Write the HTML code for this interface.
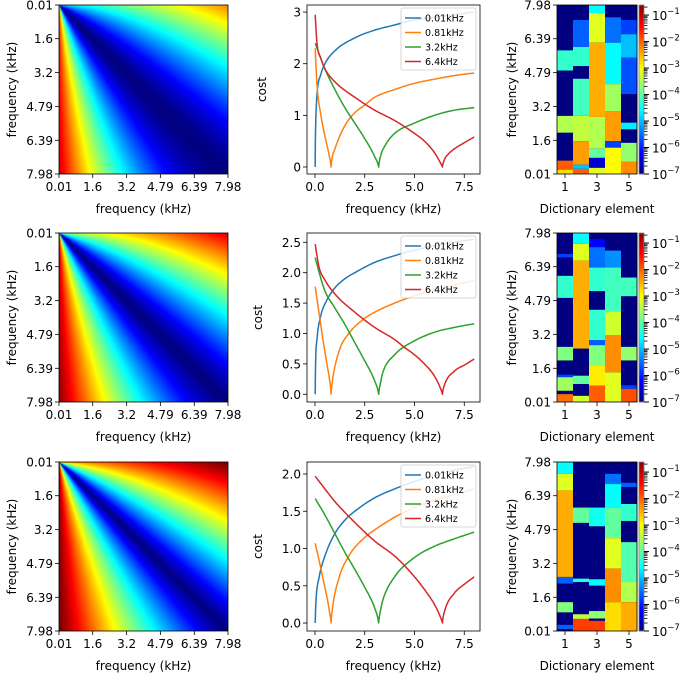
<!DOCTYPE html>
<html><head><meta charset="utf-8">
<style>
body{margin:0;background:#fff;}
#wrap{position:relative;width:685px;height:674px;overflow:hidden;font-family:"DejaVu Sans","Liberation Sans",sans-serif;}
canvas{position:absolute;}
svg{position:absolute;left:0;top:0;}
</style></head>
<body>
<div id="wrap">
<canvas id="m0" width="169" height="169" style="left:59px;top:5px"></canvas>
<canvas id="m1" width="169" height="169" style="left:59px;top:233px"></canvas>
<canvas id="m2" width="169" height="169" style="left:59px;top:462px"></canvas>
<svg id="fig" width="685" height="674"></svg>
</div>
<script>
// ---------- data ----------
const rowTops = [5, 233, 462];
const freqTicks = ["0.01","1.6","3.2","4.79","6.39","7.98"];
const freqTickVals = [0.01,1.6,3.2,4.79,6.39,7.98];
// matrix shape parameters per row
const matUpPow = [1.5, 1.3, 1.15];
const matLowPow = [1.9, 1.45, 1.2];
const matUpBase = [0.33, 0.52, 0.70];
const matUpSlope = [0.052, 0.048, 0.04];
const matLowBase = [0.84, 0.92, 0.98];
const matLowSlope = [0.01, 0.008, 0.004];
const seriesNames = ["0.01kHz","0.81kHz","3.2kHz","6.4kHz"];
const seriesColors = ["#1f77b4","#ff7f0e","#2ca02c","#d62728"];
const costYTicks = [[0,1,2,3],[0,0.5,1.0,1.5,2.0,2.5],[0,0.5,1.0,1.5,2.0]];
const costYTickLabels = [["0","1","2","3"],["0.0","0.5","1.0","1.5","2.0","2.5"],["0.0","0.5","1.0","1.5","2.0"]];
const costYDomain = [[-0.136,3.137],[-0.127,2.653],[-0.107,2.161]];
const costXTicks = [0,2.5,5,7.5];
const costXTickLabels = ["0.0","2.5","5.0","7.5"];
// row 1 curves
const r1Blue = [[0.01,0],[0.02,0.5],[0.05,1.0],[0.1,1.4],[0.3,1.8],[0.5,2.0],[1,2.25],[2,2.5],[3,2.65],[4,2.75],[5,2.85],[6,2.9],[7,2.95],[8,3.0]];
const r1Orange = [[0.01,2.3],[0.1,1.6],[0.3,1.0],[0.5,0.6],[0.7,0.25],[0.81,0],[0.85,0.15],[1,0.35],[1.5,0.8],[2,1.05],[2.5,1.2],[3,1.35],[4,1.5],[5,1.62],[6,1.7],[7,1.77],[8,1.82]];
const r1Green = [[0.01,2.4],[0.2,2.2],[0.5,1.9],[1,1.5],[1.5,1.15],[2,0.85],[2.5,0.55],[3,0.2],[3.2,0],[3.3,0.22],[3.5,0.4],[4,0.65],[5,0.85],[6,1.0],[7,1.1],[8,1.15]];
const r1Red = [[0.01,2.95],[0.1,2.4],[0.3,2.1],[0.5,1.9],[1,1.65],[2,1.35],[3,1.1],[4,0.9],[5,0.65],[5.5,0.5],[6,0.28],[6.3,0.08],[6.4,0],[6.5,0.14],[6.7,0.25],[7,0.35],[7.5,0.47],[8,0.58]];
// row 2 curves
const r2Blue = [[0.01,0],[0.03,0.5],[0.1,0.9],[0.3,1.3],[0.6,1.55],[1,1.75],[1.5,1.9],[2,2.0],[3,2.17],[4,2.28],[5,2.37],[6,2.44],[7,2.5],[8,2.55]];
const r2Orange = [[0.01,1.77],[0.2,1.35],[0.4,0.9],[0.6,0.5],[0.75,0.2],[0.81,0],[0.87,0.2],[1.2,0.7],[1.7,1.0],[2.5,1.25],[3,1.35],[4,1.5],[5,1.62],[6,1.72],[7,1.8],[8,1.87]];
const r2Green = [[0.01,2.25],[0.3,1.9],[0.5,1.7],[1,1.42],[1.5,1.15],[2,0.85],[2.5,0.55],[3,0.22],[3.2,0],[3.3,0.2],[3.4,0.35],[4,0.65],[5,0.88],[6,1.02],[7,1.1],[8,1.16]];
const r2Red = [[0.01,2.47],[0.2,2.1],[0.5,1.88],[1,1.65],[2,1.35],[3,1.1],[4,0.9],[4.5,0.77],[5,0.65],[5.5,0.5],[6,0.3],[6.3,0.1],[6.4,0],[6.5,0.15],[7,0.38],[7.5,0.48],[8,0.58]];
// row 3 curves
const r3Blue = [[0.01,0],[0.05,0.3],[0.2,0.6],[0.5,0.9],[1,1.2],[1.5,1.38],[2,1.5],[3,1.68],[4,1.8],[5,1.9],[6,1.98],[7,2.05],[8,2.1]];
const r3Orange = [[0.01,1.07],[0.2,0.85],[0.4,0.6],[0.6,0.35],[0.75,0.12],[0.81,0],[0.87,0.18],[1.2,0.6],[1.7,0.9],[2.5,1.15],[3,1.25],[4,1.42],[5,1.55],[6,1.65],[7,1.72],[8,1.8]];
const r3Green = [[0.01,1.67],[0.5,1.45],[1,1.2],[1.5,0.95],[2,0.72],[2.5,0.48],[3,0.2],[3.2,0],[3.3,0.18],[3.4,0.3],[4,0.62],[5,0.88],[6,1.03],[7,1.13],[8,1.22]];
const r3Red = [[0.01,1.97],[0.5,1.8],[1,1.63],[2,1.35],[3,1.1],[4,0.9],[4.5,0.77],[5,0.62],[5.5,0.45],[6,0.25],[6.3,0.08],[6.4,0],[6.5,0.15],[7,0.4],[7.5,0.52],[8,0.62]];
const costSeries = [[r1Blue,r1Orange,r1Green,r1Red],[r2Blue,r2Orange,r2Green,r2Red],[r3Blue,r3Orange,r3Green,r3Red]];
// dictionary heatmaps: [fromKHz, toKHz, log10 value]; background = -7
const dict1 = [
 [[4.89,5.84,-4.3],[1.96,2.75,-3.5],[0.21,0.64,-2.0],[0.01,0.21,-2.8]],
 [[6.0,7.27,-5.6],[5.1,6.0,-4.3],[2.75,4.5,-4.2],[1.56,2.75,-3.4],[0.45,1.56,-2.4],[0.25,0.45,-5.0],[0.01,0.25,-2.0]],
 [[7.6,7.98,-4.6],[6.2,7.6,-3.2],[2.7,6.2,-2.5],[1.2,2.7,-3.5],[0.77,1.2,-4.0],[0.3,0.77,-6.5],[0.01,0.3,-3.2]],
 [[6.2,7.4,-5.5],[4.25,6.2,-4.6],[2.98,4.25,-3.6],[1.56,2.98,-2.4],[1.25,1.56,-5.8],[0.01,1.25,-3.0]],
 [[6.6,7.27,-5.8],[5.5,6.6,-5.0],[3.78,5.5,-5.7],[2.12,2.43,-4.7],[0.6,1.48,-3.7],[0.01,0.6,-2.3]]];
const dict2 = [
 [[6.83,6.99,-5.8],[4.92,5.96,-4.3],[1.97,2.61,-3.8],[1.18,1.3,-5.8],[0.54,1.18,-3.6],[0.01,0.38,-2.1]],
 [[7.47,7.98,-4.6],[6.67,7.47,-3.2],[2.53,6.67,-2.5],[0.86,1.25,-4.0],[0.01,0.3,-3.3]],
 [[7.31,7.7,-6.2],[6.35,7.31,-5.5],[5.24,6.35,-4.3],[2.93,4.36,-4.3],[2.69,2.93,-5.6],[1.73,2.69,-3.8],[0.78,1.73,-2.9],[0.01,0.78,-2.0]],
 [[6.35,7.15,-5.3],[4.28,6.35,-4.2],[3.17,4.28,-3.3],[1.41,3.17,-2.3],[0.01,1.41,-3.2]],
 [[5.0,5.88,-4.2],[1.97,2.61,-3.7],[0.63,0.8,-5.8],[0.01,0.63,-1.9]]];
const dict3 = [
 [[7.42,7.98,-4.6],[6.63,7.42,-3.2],[2.56,6.63,-2.5],[2.25,2.56,-5.6],[0.89,1.37,-3.8],[0.1,0.3,-5.6]],
 [[5.11,5.83,-4.0],[2.32,2.48,-4.4],[0.58,0.8,-3.4],[0.01,0.58,-1.8]],
 [[4.95,5.83,-4.5],[2.15,2.45,-4.6],[0.6,0.95,-3.7],[0.01,0.49,-1.8]],
 [[6.94,7.42,-5.5],[5.83,6.94,-4.6],[4.39,5.83,-4.0],[2.96,4.39,-3.2],[1.37,2.96,-2.3],[0.01,1.37,-2.8]],
 [[6.8,7.0,-5.6],[5.2,6.0,-4.3],[2.32,4.2,-4.1],[1.37,2.32,-3.5],[0.01,1.37,-2.5]]];
const dictData = [dict1,dict2,dict3];
const dictXTicks = [1,3,5];
const cbarTickLabels = ["-1","-2","-3","-4","-5","-6","-7"];
const cbarTickVals = [-1,-2,-3,-4,-5,-6,-7];

// ---------- helpers ----------
function jet(t){t=Math.max(0,Math.min(1,t));
 const f=(x)=>Math.max(0,Math.min(1,x));
 const r=f(1.5-Math.abs(4*t-3)), g=f(1.5-Math.abs(4*t-2)), b=f(1.5-Math.abs(4*t-1));
 return [Math.round(r*255),Math.round(g*255),Math.round(b*255)];}
function rgb(c){return `rgb(${c[0]},${c[1]},${c[2]})`;}
function monotone(pts){
 const n=pts.length,xs=pts.map(p=>p[0]),ys=pts.map(p=>p[1]);
 const d=[],m=[];
 for(let i=0;i<n-1;i++)d.push((ys[i+1]-ys[i])/(xs[i+1]-xs[i]));
 m[0]=d[0];m[n-1]=d[n-2];
 for(let i=1;i<n-1;i++){m[i]=(d[i-1]*d[i]<=0)?0:(d[i-1]+d[i])/2;}
 for(let i=0;i<n-1;i++){if(d[i]===0){m[i]=0;m[i+1]=0;continue;}
  const a=m[i]/d[i],b=m[i+1]/d[i],s=a*a+b*b;
  if(s>9){const t=3/Math.sqrt(s);m[i]=t*a*d[i];m[i+1]=t*b*d[i];}}
 for(let i=1;i<n-1;i++){if(ys[i]===0&&d[i-1]<0&&d[i]>0){m[i]=NaN;}}
 const out=[];
 for(let i=0;i<n-1;i++){const h=xs[i+1]-xs[i];
  let m0=m[i],m1=m[i+1];
  if(isNaN(m0))m0=d[i]*1.8; if(isNaN(m1))m1=d[i]*1.8;
  for(let k=0;k<12;k++){const t=k/12,t2=t*t,t3=t2*t;
   const y=(2*t3-3*t2+1)*ys[i]+(t3-2*t2+t)*h*m0+(-2*t3+3*t2)*ys[i+1]+(t3-t2)*h*m1;
   out.push([xs[i]+t*h,Math.max(0,y)]);}}
 out.push([xs[n-1],ys[n-1]]);return out;}
const NS="http://www.w3.org/2000/svg";
const svg=document.getElementById('fig');
function mk(tag,attrs,parent){const e=document.createElementNS(NS,tag);for(const k in attrs)e.setAttribute(k,attrs[k]);(parent||svg).appendChild(e);return e;}
function txt(s,x,y,anchor,size,parent){const t=mk('text',{x:x,y:y,'text-anchor':anchor,'font-size':size,fill:'#000'},parent);t.textContent=s;return t;}

// ---------- matrices ----------
for(let r=0;r<3;r++){
 const cv=document.getElementById('m'+r),ctx=cv.getContext('2d'),img=ctx.createImageData(169,169);
 for(let py=0;py<169;py++){const fr=0.01+py/168*7.97;
  for(let px=0;px<169;px++){const fc=0.01+px/168*7.97;
   let v;
   if(fc>=fr){v=Math.pow((fc-fr)/fc,matUpPow[r])*(matUpBase[r]+matUpSlope[r]*fc);}
   else{v=Math.pow((fr-fc)/fr,matLowPow[r])*(matLowBase[r]+matLowSlope[r]*fr);}
   const c=jet(v);
   const k=(py*169+px)*4;img.data[k]=c[0];img.data[k+1]=c[1];img.data[k+2]=c[2];img.data[k+3]=255;}}
 ctx.putImageData(img,0,0);
}

// ---------- build rows ----------
for(let r=0;r<3;r++){
 const top=rowTops[r],bot=top+169;
 const gm=mk('g',{});
 
 
 mk('rect',{x:59,y:top,width:169,height:169,fill:'none',stroke:'#000','stroke-width':0.8},gm);
 freqTickVals.forEach((f,i)=>{
  const x=59+(f-0.01)/7.97*169, y=top+(f-0.01)/7.97*169;
  mk('line',{x1:x,y1:bot,x2:x,y2:bot+4,stroke:'#000','stroke-width':0.8},gm);
  const tx=txt(freqTicks[i],x,bot+17,'middle',12,gm);
  
  
  mk('line',{x1:55,y1:y,x2:59,y2:y,stroke:'#000','stroke-width':0.8},gm);
  const ty=txt(freqTicks[i],53,y+4.5,'end',12,gm);
  
  
 });
 const xl=txt('frequency (kHz)',143.5,bot+39,'middle',12,gm);
 
 
 const yl=txt('frequency (kHz)',0,0,'middle',12,gm);
 yl.setAttribute('transform',`translate(16,${top+84.5}) rotate(-90)`);
 
 

 // ---- cost plot
 const gc=mk('g',{});
 
 
 const L=307,R=480,x0=-0.40,x1=8.29,[y0,y1]=costYDomain[r];
 const X=v=>L+(v-x0)/(x1-x0)*(R-L), Y=v=>bot-(v-y0)/(y1-y0)*169;
 costSeries[r].forEach((pts,si)=>{
  const sm=monotone(pts);
  const p=mk('polyline',{points:sm.map(q=>X(q[0]).toFixed(1)+','+Y(q[1]).toFixed(1)).join(' '),fill:'none',stroke:seriesColors[si],'stroke-width':1.5,'stroke-linejoin':'round'},gc);
  
  
 });
 mk('rect',{x:L,y:top,width:R-L,height:169,fill:'none',stroke:'#000','stroke-width':0.8},gc);
 costXTicks.forEach((v,i)=>{const x=X(v);
  mk('line',{x1:x,y1:bot,x2:x,y2:bot+4,stroke:'#000','stroke-width':0.8},gc);
  const t=txt(costXTickLabels[i],x,bot+17,'middle',12,gc);
  
  });
 costYTicks[r].forEach((v,i)=>{const y=Y(v);
  mk('line',{x1:L-4,y1:y,x2:L,y2:y,stroke:'#000','stroke-width':0.8},gc);
  const t=txt(costYTickLabels[r][i],L-6,y+4.5,'end',12,gc);
  
  });
 const cx=txt('frequency (kHz)',393.5,bot+39,'middle',12,gc);
 
 
 const cy=txt('cost',0,0,'middle',12,gc);
 cy.setAttribute('transform',`translate(${r==0?266:262},${top+84.5}) rotate(-90)`);
 
 
 const lg=mk('g',{},gc);
 
 
 mk('rect',{x:401,y:top+3,width:75,height:62,rx:2,fill:'#fff','fill-opacity':0.85,stroke:'#ccc','stroke-width':0.8},lg);
 seriesNames.forEach((n,i)=>{const y=top+13+i*14.5;
  const le=mk('g',{},lg);
  
  
  mk('line',{x1:405,y1:y,x2:421,y2:y,stroke:seriesColors[i],'stroke-width':1.5},le);
  txt(n,425,y+3.5,'start',9.5,le);});

 // ---- dictionary heatmap
 const gd=mk('g',{});
 
 
 const HL=557,HR=637,vmin=-7,vmax=-0.62;
 const cw=(HR-HL)/5, FY=f=>bot-(f-0.01)/7.97*169;
 const tcol=e=>rgb(jet((e-vmin)/(vmax-vmin)));
 dictData[r].forEach((col,ci)=>{
  const bg=mk('rect',{x:HL+ci*cw,y:top,width:cw+0.3,height:169,fill:tcol(-7)},gd);
  
  
  col.forEach(s=>{
   const c=mk('rect',{x:HL+ci*cw,y:FY(s[1]),width:cw+0.3,height:FY(s[0])-FY(s[1]),fill:tcol(s[2])},gd);
   
   
  });
 });
 mk('rect',{x:HL,y:top,width:HR-HL,height:169,fill:'none',stroke:'#000','stroke-width':0.8},gd);
 freqTickVals.forEach((f,i)=>{const y=FY(f);
  mk('line',{x1:HL-4,y1:y,x2:HL,y2:y,stroke:'#000','stroke-width':0.8},gd);
  const t=txt(freqTicks[i],HL-6,y+4.5,'end',12,gd);
  
  });
 dictXTicks.forEach(v=>{const x=HL+(v-0.5)*cw;
  mk('line',{x1:x,y1:bot,x2:x,y2:bot+4,stroke:'#000','stroke-width':0.8},gd);
  const t=txt(String(v),x,bot+17,'middle',12,gd);
  
  });
 const dx=txt('Dictionary element',597,bot+39,'middle',12,gd);
 
 
 const dy=txt('frequency (kHz)',0,0,'middle',12,gd);
 dy.setAttribute('transform',`translate(516,${top+84.5}) rotate(-90)`);
 
 
 const gb=mk('g',{},gd);
 
 
 const CL=639,CW=5,CY=e=>bot-(e-vmin)/(vmax-vmin)*169;
 for(let k=0;k<84;k++){const t0=k/84;
  mk('rect',{x:CL,y:bot-(k+1)/84*169,width:CW,height:169/84+0.5,fill:rgb(jet(t0))},gb);}
 mk('rect',{x:CL,y:top,width:CW,height:169,fill:'none',stroke:'#888','stroke-width':0.8},gb);
 for(let d=-7;d<0;d++){for(let m=1;m<10;m++){const e=d+Math.log10(m);if(e>vmax)continue;
  const y=CY(e);mk('line',{x1:CL+CW,y1:y,x2:CL+CW+(m==1?5:3.5),y2:y,stroke:'#000','stroke-width':m==1?1:0.8},gb);}}
 cbarTickVals.forEach((e,i)=>{const y=CY(e);
  const t=mk('text',{x:652,y:y+5,'font-size':12,fill:'#000'},gb);
  
  
  t.textContent='10';
  const s=mk('tspan',{dy:-6,'font-size':8.5},t);s.textContent='\u2212'+cbarTickLabels[i].slice(1);
 });
}
</script>
</body></html>
